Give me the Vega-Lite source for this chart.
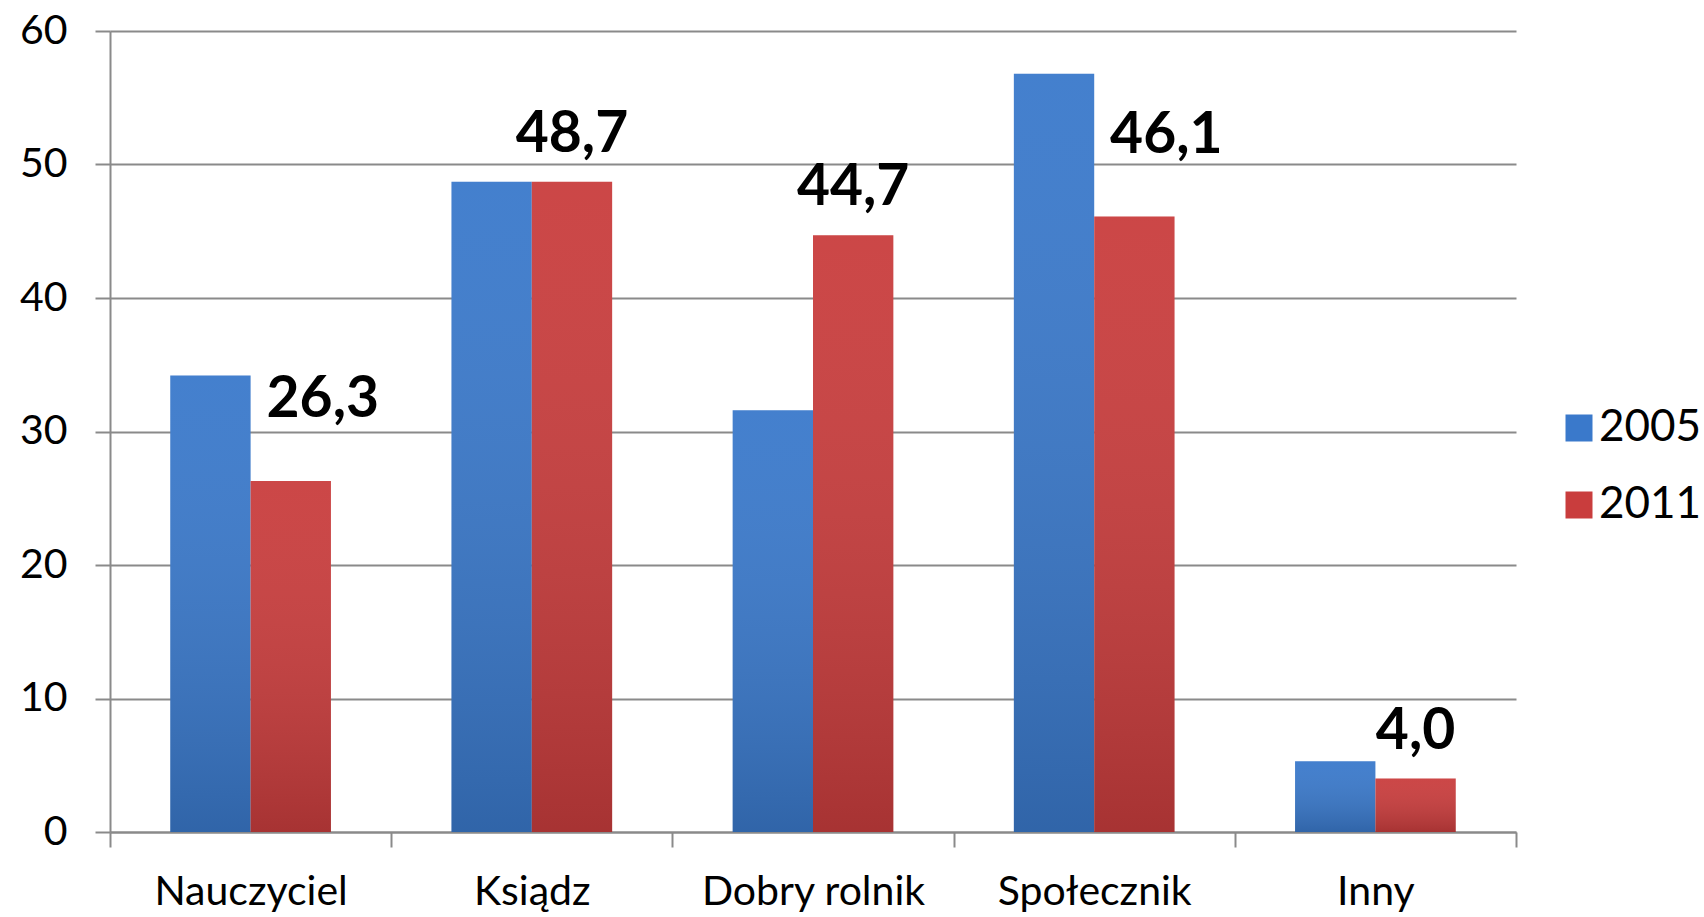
{
  "$schema": "https://vega.github.io/schema/vega-lite/v6.json",
  "width": 1406,
  "height": 801,
  "autosize": {"type": "none"},
  "padding": {"left": 110, "top": 31, "right": 188, "bottom": 85},
  "background": "white",
  "data": {
    "values": [
      {"category": "Nauczyciel", "year": "2005", "value": 34.2},
      {"category": "Nauczyciel", "year": "2011", "value": 26.3},
      {"category": "Ksiądz", "year": "2005", "value": 48.7},
      {"category": "Ksiądz", "year": "2011", "value": 48.7},
      {"category": "Dobry rolnik", "year": "2005", "value": 31.6},
      {"category": "Dobry rolnik", "year": "2011", "value": 44.7},
      {"category": "Społecznik", "year": "2005", "value": 56.8},
      {"category": "Społecznik", "year": "2011", "value": 46.1},
      {"category": "Inny", "year": "2005", "value": 5.3},
      {"category": "Inny", "year": "2011", "value": 4.0}
    ]
  },
  "encoding": {
    "x": {
      "field": "category", "type": "nominal", "sort": null, "title": null,
      "scale": {"paddingInner": 0, "paddingOuter": 0},
      "axis": {
        "labelAngle": 0, "labelFont": "Lato", "labelFontSize": 41, "labelColor": "#000000",
        "labelLimit": 0, "labelPadding": 25, "tickSize": 15, "tickColor": "#8a8a8a", "tickWidth": 2,
        "domainColor": "#8a8a8a", "domainWidth": 2, "tickBand": "extent", "grid": false
      }
    },
    "xOffset": {
      "field": "year", "type": "nominal",
      "scale": {"paddingInner": 0, "paddingOuter": 0.75}
    },
    "y": {
      "field": "value", "type": "quantitative", "title": null,
      "scale": {"domain": [0, 60], "nice": false},
      "axis": {
        "values": [0, 10, 20, 30, 40, 50, 60],
        "labelFont": "Lato", "labelFontSize": 41, "labelColor": "#000000",
        "labelPadding": 28, "tickSize": 15, "tickColor": "#8a8a8a", "tickWidth": 2,
        "domainColor": "#8a8a8a", "domainWidth": 2,
        "grid": true, "gridColor": "#8a8a8a", "gridWidth": 2
      }
    }
  },
  "layer": [
    {
      "mark": {"type": "bar"},
      "encoding": {
        "color": {
          "field": "year", "type": "nominal",
          "scale": {"domain": ["2005", "2011"], "range": ["#3A79CB", "#C93D3D"]},
          "legend": {
            "title": null, "orient": "none", "legendX": 1447, "legendY": 375,
            "symbolType": "square", "symbolSize": 729, "symbolStrokeWidth": 0,
            "labelFont": "Lato", "labelFontSize": 44, "labelColor": "#000000",
            "labelOffset": -2, "rowPadding": 33, "padding": 0
          }
        }
      }
    },
    {
      "mark": {
        "type": "bar",
        "color": {
          "gradient": "linear", "x1": 0, "y1": 0, "x2": 0, "y2": 1,
          "stops": [
            {"offset": 0, "color": "rgba(255,255,255,0.05)"},
            {"offset": 1, "color": "rgba(0,0,0,0.17)"}
          ]
        }
      },
      "encoding": {}
    },
    {
      "transform": [
        {"filter": "datum.year == '2011' && datum.category != 'Nauczyciel' && datum.category != 'Społecznik'"}
      ],
      "mark": {"type": "text", "font": "Lato", "fontWeight": "bold", "fontSize": 57, "baseline": "alphabetic", "align": "center", "dy": -30, "color": "#000000"},
      "encoding": {"text": {"field": "value", "type": "quantitative", "format": ".1f"}}
    },
    {
      "transform": [
        {"filter": "datum.year == '2011' && (datum.category == 'Nauczyciel' || datum.category == 'Społecznik')"}
      ],
      "mark": {"type": "text", "font": "Lato", "fontWeight": "bold", "fontSize": 57, "baseline": "alphabetic", "align": "center", "dx": 32, "dy": -64, "color": "#000000"},
      "encoding": {"text": {"field": "value", "type": "quantitative", "format": ".1f"}}
    }
  ],
  "config": {
    "view": {"stroke": null},
    "locale": {"number": {"decimal": ",", "thousands": " ", "grouping": [3], "currency": ["", ""]}}
  }
}
